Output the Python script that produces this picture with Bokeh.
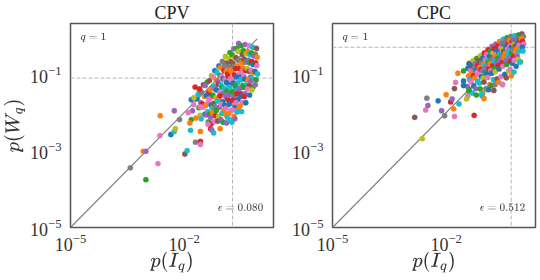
from bokeh.plotting import figure
from bokeh.models import Range1d, FixedTicker, Span, Label
from bokeh.layouts import row
from bokeh.palettes import Category10_10
from bokeh.embed import file_html
from bokeh.resources import INLINE

# ---------------- data (log10 values) ----------------
titles = ["CPV", "CPC"]
eps_labels = [r"$$\epsilon = 0.080$$", r"$$\epsilon = 0.512$$"]
hline_values = [0.080, 0.512]
vline_values = [0.19, 0.52]
diag_ends = [0.85, 1.1]
x_ticks = [1e-5, 1e-2]
y_ticks = [1e-5, 1e-3, 1e-1]

# CPV dense cloud (log10 p(I_q), log10 p(W_q)); one line per column
cpv_cloud_x = [
    -1.71, -1.66, -1.75,
    -1.60, -1.63, -1.56, -1.61, -1.58,
    -1.49, -1.54, -1.46, -1.52, -1.50, -1.45, -1.55,
    -1.39, -1.44, -1.35, -1.41, -1.37, -1.43, -1.38, -1.42, -1.36,
    -1.28, -1.33, -1.25, -1.31, -1.27, -1.34, -1.29, -1.26, -1.32, -1.30, -1.28,
    -1.19, -1.23, -1.15, -1.21, -1.18, -1.24, -1.16, -1.22, -1.19, -1.25, -1.17, -1.20,
    -1.08, -1.13, -1.05, -1.11, -1.09, -1.14, -1.06, -1.10, -1.12, -1.07, -1.15, -1.09, -1.11,
    -0.99, -1.04, -0.95, -1.01, -0.97, -1.03, -1.00, -0.96, -1.05, -0.98, -1.02, -0.95, -1.00, -1.03, -0.97,
    -0.91, -0.86, -0.93, -0.89, -0.85, -0.92, -0.88, -0.94, -0.87, -0.90, -0.85, -0.93, -0.89, -0.91, -0.86, -0.88,
    -0.79, -0.83, -0.76, -0.81, -0.78, -0.84, -0.77, -0.82, -0.80, -0.75, -0.83, -0.79, -0.81, -0.76, -0.82, -0.78,
    -0.69, -0.73, -0.66, -0.71, -0.68, -0.74, -0.67, -0.72, -0.70, -0.65, -0.73, -0.69, -0.71, -0.66, -0.72, -0.68, -0.74,
    -0.56, -0.61, -0.58, -0.63, -0.57, -0.60, -0.64, -0.55, -0.62, -0.59, -0.65, -0.57, -0.61, -0.58, -0.63, -0.56, -0.60, -0.66,
    -0.49, -0.53, -0.46, -0.51, -0.48, -0.54, -0.47, -0.52, -0.50, -0.45, -0.53, -0.49, -0.51, -0.46, -0.52, -0.48,
    -0.39, -0.43, -0.36, -0.41, -0.38, -0.44, -0.37, -0.42, -0.40, -0.35, -0.43, -0.39, -0.41, -0.37,
    -0.28, -0.32, -0.26, -0.30, -0.27, -0.33, -0.29, -0.25, -0.31, -0.28, -0.32, -0.27,
    -0.19, -0.22, -0.16, -0.21, -0.18, -0.23, -0.17, -0.20, -0.24, -0.18, -0.21,
    -0.09, -0.12, -0.07, -0.11, -0.08, -0.13, -0.06, -0.10, -0.12,
]
cpv_cloud_y = [
    -1.33, -1.64, -1.79,
    -1.41, -1.52, -1.74, -1.87, -2.07,
    -1.27, -1.47, -1.58, -1.77, -1.86, -2.04, -2.16,
    -1.20, -1.29, -1.47, -1.55, -1.73, -1.81, -1.97, -2.06, -2.24,
    -1.03, -1.16, -1.33, -1.40, -1.57, -1.64, -1.80, -1.88, -2.04, -2.12, -2.28,
    -0.90, -1.07, -1.15, -1.30, -1.38, -1.54, -1.61, -1.76, -1.84, -2.00, -2.08, -2.23,
    -0.78, -0.95, -1.03, -1.18, -1.26, -1.41, -1.48, -1.63, -1.70, -1.86, -1.94, -2.10, -2.22,
    -0.66, -0.82, -0.90, -1.05, -1.12, -1.27, -1.34, -1.49, -1.56, -1.71, -1.78, -1.94, -2.02, -2.18, -2.25,
    -0.53, -0.69, -0.77, -0.92, -0.99, -1.14, -1.21, -1.36, -1.43, -1.58, -1.65, -1.80, -1.88, -2.04, -2.12, -2.27,
    -0.43, -0.59, -0.67, -0.82, -0.89, -1.04, -1.11, -1.26, -1.33, -1.48, -1.55, -1.70, -1.78, -1.94, -2.02, -2.19,
    -0.33, -0.49, -0.57, -0.72, -0.79, -0.94, -1.01, -1.16, -1.23, -1.38, -1.45, -1.60, -1.68, -1.84, -1.93, -2.10, -2.25,
    -0.19, -0.32, -0.40, -0.56, -0.63, -0.78, -0.85, -1.00, -1.07, -1.22, -1.29, -1.44, -1.51, -1.66, -1.74, -1.90, -1.98, -2.16,
    -0.25, -0.40, -0.48, -0.63, -0.70, -0.85, -0.92, -1.07, -1.14, -1.29, -1.36, -1.51, -1.58, -1.74, -1.82, -1.97,
    -0.22, -0.38, -0.46, -0.61, -0.68, -0.83, -0.90, -1.05, -1.12, -1.27, -1.34, -1.50, -1.58, -1.74,
    -0.25, -0.40, -0.48, -0.63, -0.70, -0.85, -0.92, -1.07, -1.14, -1.30, -1.38, -1.54,
    -0.29, -0.44, -0.52, -0.67, -0.74, -0.89, -0.96, -1.11, -1.18, -1.33, -1.41,
    -0.32, -0.47, -0.55, -0.70, -0.77, -0.92, -0.99, -1.14, -1.27,
]
# CPV scattered points and their colour groups
cpv_out_x = [-3.42, -3.01, -2.69, -3.08, -3.01, -2.64, -2.63, -2.35, -2.26, -2.23,
             -2.26, -2.12, -1.98, -1.92, -1.70, -1.57, -1.57, -1.57, -1.81, -1.78,
             -1.81, -1.85, -1.83, -1.89, -1.74, -1.59, -1.57, -1.69, -1.37, -1.30,
             -1.27, -1.22, -1.05]
cpv_out_y = [-3.44, -3.75, -3.33, -3.01, -3.01, -2.60, -2.08, -2.57, -2.49, -2.42,
             -1.95, -2.18, -3.08, -2.99, -2.77, -2.75, -2.83, -2.49, -1.66, -1.95,
             -2.18, -2.27, -2.46, -2.00, -1.61, -1.38, -1.85, -2.14, -2.30, -2.42,
             -2.45, -2.53, -2.42]
cpv_out_g = [7, 2, 6, 1, 4, 6, 1, 0, 9, 8,
             4, 7, 5, 9, 7, 3, 6, 1, 0, 4,
             2, 1, 9, 6, 8, 3, 6, 1, 6, 3,
             4, 9, 1]

# CPC dense cloud
cpc_cloud_x = [
    -1.39, -1.43, -1.36, -1.41, -1.38, -1.44, -1.40,
    -1.29, -1.33, -1.26, -1.31, -1.28, -1.34, -1.27, -1.30,
    -1.19, -1.23, -1.16, -1.21, -1.18, -1.24, -1.17, -1.22, -1.20,
    -1.09, -1.13, -1.06, -1.11, -1.08, -1.14, -1.07, -1.12, -1.10, -1.05,
    -0.99, -1.03, -0.96, -1.01, -0.98, -1.04, -0.97, -1.02, -1.00, -0.95, -1.03,
    -0.89, -0.93, -0.86, -0.91, -0.88, -0.94, -0.87, -0.92, -0.90, -0.85, -0.91,
    -0.79, -0.83, -0.76, -0.81, -0.78, -0.84, -0.77, -0.82, -0.80, -0.75, -0.81,
    -0.69, -0.73, -0.66, -0.71, -0.68, -0.74, -0.67, -0.72, -0.70, -0.65, -0.71,
    -0.59, -0.63, -0.56, -0.61, -0.58, -0.64, -0.57, -0.62, -0.60, -0.55, -0.61,
    -0.49, -0.53, -0.46, -0.51, -0.48, -0.54, -0.47, -0.52, -0.50, -0.45, -0.51,
    -0.39, -0.43, -0.36, -0.41, -0.38, -0.44, -0.37, -0.42, -0.40, -0.35, -0.41,
    -0.29, -0.33, -0.26, -0.31, -0.28, -0.34, -0.27, -0.32, -0.30, -0.25, -0.31, -0.28,
    -0.19, -0.23, -0.16, -0.21, -0.18, -0.24, -0.17, -0.22, -0.20, -0.15, -0.21,
    -0.09, -0.13, -0.06, -0.11, -0.08, -0.14, -0.07, -0.12, -0.04, -0.10,
    0.00, 0.04, -0.02, 0.02, 0.05, 0.01, 0.03,
]
cpc_cloud_y = [
    -0.71, -0.84, -0.90, -1.04, -1.13, -1.31, -1.44,
    -0.64, -0.78, -0.84, -0.97, -1.03, -1.19, -1.30, -1.49,
    -0.58, -0.72, -0.77, -0.90, -0.95, -1.09, -1.18, -1.37, -1.54,
    -0.51, -0.64, -0.70, -0.82, -0.87, -1.00, -1.06, -1.23, -1.38, -1.56,
    -0.44, -0.57, -0.62, -0.74, -0.78, -0.90, -0.95, -1.10, -1.20, -1.37, -1.48,
    -0.35, -0.48, -0.53, -0.65, -0.69, -0.81, -0.86, -1.00, -1.08, -1.27, -1.39,
    -0.27, -0.39, -0.44, -0.56, -0.60, -0.72, -0.77, -0.90, -0.97, -1.14, -1.29,
    -0.21, -0.33, -0.37, -0.49, -0.53, -0.65, -0.70, -0.84, -0.93, -1.12, -1.27,
    -0.14, -0.26, -0.30, -0.42, -0.46, -0.58, -0.63, -0.77, -0.86, -1.06, -1.21,
    -0.08, -0.19, -0.23, -0.35, -0.39, -0.51, -0.56, -0.70, -0.79, -1.00, -1.26,
    -0.04, -0.15, -0.19, -0.30, -0.34, -0.46, -0.51, -0.64, -0.74, -0.91, -1.09,
    -0.01, -0.11, -0.15, -0.25, -0.29, -0.39, -0.44, -0.57, -0.66, -0.71, -0.87, -1.04,
    0.01, -0.09, -0.12, -0.22, -0.26, -0.36, -0.41, -0.54, -0.63, -0.79, -0.94,
    0.03, -0.07, -0.10, -0.20, -0.24, -0.34, -0.39, -0.52, -0.67, -0.61,
    0.06, -0.01, -0.07, -0.14, -0.21, -0.29, -0.39,
]
cpc_out_x = [-2.63, -2.83, -2.54, -2.48, -2.51, -2.12, -2.21, -2.04, -1.78, -1.88,
             -1.84, -1.80, -2.00, -1.66, -1.26, -1.43, -1.46, -1.39, -1.78, -1.75,
             -1.54, -1.54, -1.69, -1.54, -1.39, -1.00, -1.06, -0.51, -0.74, -0.88,
             -0.06]
cpc_out_y = [-2.68, -2.12, -1.93, -1.81, -1.62, -1.95, -1.69, -2.08, -2.10, -1.72,
             -1.64, -1.90, -1.53, -1.77, -2.07, -1.57, -1.64, -1.40, -1.37, -1.21,
             -1.17, -1.29, -0.97, -0.91, -0.73, -1.63, -1.51, -1.27, -1.42, -1.40,
             -0.68]
cpc_out_g = [8, 5, 6, 4, 7, 4, 0, 7, 6, 3,
             4, 1, 1, 9, 3, 6, 8, 2, 5, 6,
             0, 0, 1, 2, 0, 1, 9, 6, 5, 0,
             9]

# ---------------- drawing ----------------
SERIF = "Liberation Serif"
XMAX = 10 ** 0.36
YMAX = 10 ** 0.33
COLOR_ORDER = [3, 0, 6, 1, 9, 4, 2, 8, 5, 7, 1, 3, 6, 0, 9, 2, 4]


def make_panel(idx, cx, cy, ox, oy, og, left_border, ylabel):
    p = figure(x_axis_type="log", y_axis_type="log",
               x_range=Range1d(1e-5, XMAX), y_range=Range1d(1e-5, YMAX),
               frame_width=203, frame_height=204,
               min_border_left=left_border, min_border_right=2,
               min_border_top=16, min_border_bottom=48,
               output_backend="svg", toolbar_location=None)
    p.title.text = titles[idx]
    p.title.align = "center"
    p.title.text_font = SERIF
    p.title.text_font_size = "18px"
    p.title.text_font_style = "normal"
    p.title.text_color = "#222222"
    p.title.standoff = 1
    p.title.offset = 0

    p.grid.visible = False
    p.outline_line_color = "#555555"
    p.outline_line_width = 1.5
    p.outline_line_alpha = 1.0
    p.background_fill_color = "white"
    p.border_fill_color = "white"

    p.xaxis.ticker = FixedTicker(ticks=x_ticks, minor_ticks=[])
    p.yaxis.ticker = FixedTicker(ticks=y_ticks, minor_ticks=[])
    for ax in (p.xaxis, p.yaxis):
        ax.major_label_text_font = SERIF
        ax.major_label_text_font_size = "18px"
        ax.major_label_text_color = "#333333"
        ax.major_tick_line_color = None
        ax.minor_tick_line_color = None
        ax.axis_line_color = None
        ax.axis_label_text_font = SERIF
        ax.axis_label_text_font_size = "18px"
        ax.axis_label_text_font_style = "italic"
        ax.axis_label_text_color = "#333333"
    p.yaxis.major_label_standoff = 3
    p.yaxis.axis_label_standoff = 2
    p.xaxis.major_label_standoff = 0
    p.xaxis.axis_label_standoff = -2
    p.xaxis.axis_label = r"$$p(I_q)$$"
    if ylabel:
        p.yaxis.axis_label = r"$$p(W_q)$$"

    # reference lines
    p.add_layout(Span(location=hline_values[idx], dimension="width",
                      line_color="#b5b5b5", line_dash="4 2", line_width=1,
                      level="underlay"))
    p.add_layout(Span(location=vline_values[idx], dimension="height",
                      line_color="#b5b5b5", line_dash="4 2", line_width=1,
                      level="underlay"))
    p.line([1e-5, diag_ends[idx]], [1e-5, diag_ends[idx]],
           line_color="#7f7f7f", line_width=1.1)

    cloud_colors = [Category10_10[COLOR_ORDER[i % len(COLOR_ORDER)]] for i in range(len(cx))]
    p.scatter([10 ** v for v in cx], [10 ** v for v in cy], size=5.3,
              fill_color=cloud_colors, line_color=cloud_colors, line_width=0.3)
    out_colors = [Category10_10[g] for g in og]
    p.scatter([10 ** v for v in ox], [10 ** v for v in oy], size=5.3,
              fill_color=out_colors, line_color=out_colors, line_width=0.3)

    p.add_layout(Label(x=10 ** -4.74, y=10 ** -0.22, text=r"$$q = 1$$",
                       text_font=SERIF, text_font_size="11px",
                       text_color="#444444"))
    p.add_layout(Label(x=10 ** 0.09, y=10 ** -4.68, text=eps_labels[idx],
                       text_align="right", text_font=SERIF,
                       text_font_size="11px", text_color="#444444"))
    return p


p1 = make_panel(0, cpv_cloud_x, cpv_cloud_y, cpv_out_x, cpv_out_y, cpv_out_g, 61, True)
p2 = make_panel(1, cpc_cloud_x, cpc_cloud_y, cpc_out_x, cpc_out_y, cpc_out_g, 57, False)

layout = row(p1, p2, spacing=0)
open("out.html", "w").write(file_html(layout, INLINE))
